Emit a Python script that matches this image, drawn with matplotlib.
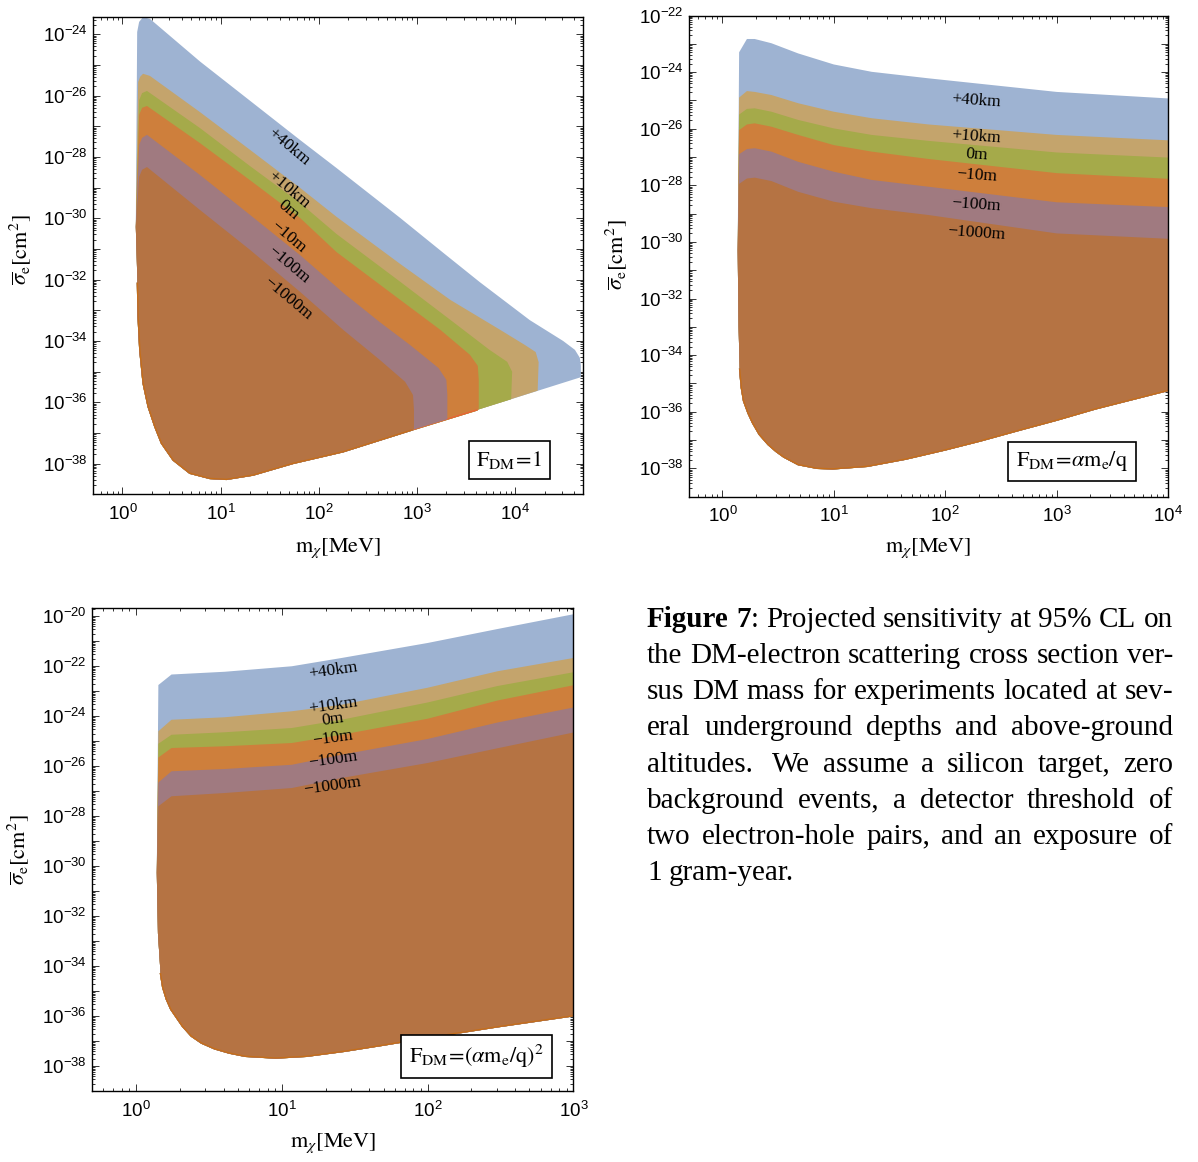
"""Projected DM-electron sensitivity bands for several depths/altitudes (three form factors)."""

import numpy as np
import matplotlib

matplotlib.use("Agg")
import matplotlib.pyplot as plt
from matplotlib.ticker import FixedLocator, FuncFormatter, NullFormatter

plt.rcParams["mathtext.fontset"] = "custom"
plt.rcParams["mathtext.rm"] = "Liberation Sans"
plt.rcParams["mathtext.it"] = "Liberation Sans:italic"
plt.rcParams["mathtext.bf"] = "Liberation Sans:bold"

W, H = 1198, 1162

depth_labels = ["+40km", "+10km", "0m", "\u221210m", "\u2212100m", "\u22121000m"]
fill_colors = ["#9EB3D2", "#C4A46C", "#A5AA4A", "#CE7F3C", "#A07A80", "#B57343"]
edge_colors = ["#5E81B5", "#E19C24", "#8FB032", "#EB6235", "#8778B3", "#C56E1A"]

# ---- panel 1: F_DM = 1 (log10 m [MeV], log10 sigma [cm^2]) ----
p1_floor_logm = [0.136, 0.143, 0.153, 0.16, 0.177, 0.211, 0.262, 0.33, 0.397, 0.516, 0.686,
                 0.89, 1.059, 1.331, 1.738, 2.248, 2.95, 3.61, 4.695]
p1_floor_logs = [-30.28, -31.03, -32.12, -33.21, -34.29, -35.38, -36.14, -36.79, -37.33, -37.88,
                 -38.31, -38.48, -38.51, -38.37, -37.99, -37.61, -36.9, -36.25, -35.16]
p1_ceil_logm = [
    [0.15, 0.17, 0.21, 0.28, 0.79, 1.30, 1.81, 2.18, 2.83, 3.27, 3.64, 4.15, 4.49, 4.61, 4.66,
     4.67, 4.67],
    [0.16, 0.18, 0.21, 0.28, 0.79, 1.30, 1.81, 2.18, 2.83, 3.34, 3.85, 4.10, 4.21, 4.24, 4.23],
    [0.17, 0.20, 0.25, 0.79, 1.30, 1.81, 2.18, 2.83, 3.34, 3.74, 3.92, 3.97, 3.96],
    [0.17, 0.20, 0.25, 0.79, 1.30, 1.81, 2.18, 2.83, 3.24, 3.54, 3.62, 3.63, 3.63],
    [0.17, 0.20, 0.25, 0.79, 1.30, 1.81, 2.25, 2.62, 2.93, 3.22, 3.30, 3.31, 3.31],
    [0.17, 0.20, 0.25, 0.79, 1.30, 1.81, 2.25, 2.62, 2.88, 2.96, 2.97, 2.97],
]
p1_ceil_logs = [
    [-23.93, -23.6, -23.44, -23.5, -24.89, -26.17, -27.45, -28.36, -29.99, -31.13, -32.08,
     -33.32, -34.0, -34.29, -34.55, -34.8, -35.18],
    [-25.56, -25.39, -25.29, -25.36, -26.54, -27.77, -29.01, -29.95, -31.49, -32.66, -33.64,
     -34.13, -34.36, -34.69, -35.62],
    [-26.15, -25.92, -25.85, -27.06, -28.3, -29.5, -30.51, -32.07, -33.31, -34.29, -34.68,
     -35.0, -35.9],
    [-26.63, -26.4, -26.34, -27.55, -28.76, -29.99, -31.1, -32.66, -33.64, -34.45, -34.81,
     -35.27, -36.23],
    [-27.61, -27.38, -27.28, -28.59, -29.89, -31.2, -32.43, -33.38, -34.13, -34.88, -35.27,
     -35.76, -36.55],
    [-28.65, -28.42, -28.33, -29.73, -31.03, -32.4, -33.64, -34.61, -35.33, -35.76, -36.25,
     -36.88],
]
p1_label_logm = [1.69, 1.69, 1.69, 1.69, 1.69, 1.69]
p1_label_logs = [-27.67, -29.08, -29.73, -30.61, -31.52, -32.6]

# ---- panel 2: F_DM = alpha m_e / q ----
p2_floor_logm = [0.137, 0.145, 0.155, 0.17, 0.19, 0.23, 0.27, 0.33, 0.41, 0.48, 0.55, 0.68,
                 0.85, 0.99, 1.30, 1.64, 2.0, 2.32, 2.67, 3.0, 3.35, 4.0]
p2_floor_logs = [-30.3, -33.0, -34.5, -35.15, -35.62, -36.05, -36.39, -36.8, -37.16, -37.4,
                 -37.6, -37.87, -38.0, -38.02, -37.93, -37.68, -37.35, -37.03, -36.65, -36.3,
                 -35.9, -35.25]
p2_ceil_logm = [0.15, 0.22, 0.29, 0.44, 0.68, 1.0, 1.34, 1.85, 3.0, 4.0]
p2_ceil_logs = [
    [-23.3, -22.83, -22.83, -22.98, -23.34, -23.73, -23.99, -24.22, -24.7, -24.93],
    [-24.9, -24.67, -24.7, -24.81, -25.10, -25.40, -25.63, -25.85, -26.22, -26.41],
    [-25.5, -25.3, -25.28, -25.40, -25.69, -25.99, -26.22, -26.43, -26.84, -27.02],
    [-26.05, -25.85, -25.81, -25.93, -26.22, -26.58, -26.81, -27.07, -27.57, -27.77],
    [-26.9, -26.72, -26.69, -26.81, -27.17, -27.52, -27.81, -28.05, -28.6, -28.77],
    [-27.95, -27.76, -27.73, -27.85, -28.23, -28.58, -28.81, -29.05, -29.7, -29.89],
]
p2_label_logm = [2.28, 2.28, 2.28, 2.28, 2.28, 2.28]
p2_label_logs = [-25.0, -26.29, -26.93, -27.66, -28.67, -29.67]

# ---- panel 3: F_DM = (alpha m_e / q)^2 ----
p3_floor_logm = [0.144, 0.152, 0.17, 0.185, 0.21, 0.24, 0.28, 0.32, 0.38, 0.45, 0.54, 0.64,
                 0.75, 0.96, 1.17, 1.43, 1.69, 2.0, 2.48, 3.0]
p3_floor_logs = [-30.26, -32.68, -34.3, -34.85, -35.32, -35.72, -36.06, -36.4, -36.79, -37.07,
                 -37.3, -37.47, -37.6, -37.67, -37.6, -37.4, -37.16, -36.86, -36.42, -35.98]
p3_ceil_logm = [0.155, 0.245, 0.61, 1.07, 1.41, 2.0, 2.48, 3.0]
p3_ceil_logs = [
    [-22.75, -22.33, -22.22, -22.0, -21.67, -21.07, -20.51, -19.92],
    [-24.6, -24.14, -24.04, -23.8, -23.54, -22.86, -22.2, -21.67],
    [-25.1, -24.74, -24.64, -24.47, -24.14, -23.45, -22.79, -22.24],
    [-25.65, -25.27, -25.2, -25.07, -24.74, -24.1, -23.37, -22.76],
    [-26.65, -26.2, -26.11, -25.94, -25.54, -24.91, -24.25, -23.65],
    [-27.6, -27.2, -27.07, -26.87, -26.47, -25.87, -25.28, -24.65],
]
p3_label_logm = [1.35, 1.35, 1.35, 1.35, 1.35, 1.35]
p3_label_logs = [-22.16, -23.56, -24.13, -24.87, -25.72, -26.77]

caption_lines = [
    "Figure 7: Projected sensitivity at 95% CL on",
    "the DM-electron scattering cross section ver-",
    "sus DM mass for experiments located at sev-",
    "eral underground depths and above-ground",
    "altitudes.  We assume a silicon target, zero",
    "background events, a detector threshold of",
    "two electron-hole pairs, and an exposure of",
    "1 gram-year.",
]

SERIF = "Liberation Serif"


def add_axes_px(fig, left, top, right, bottom):
    return fig.add_axes([left / W, 1 - bottom / H, (right - left) / W, (bottom - top) / H])


def draw_band(ax, floor_m, floor_s, ceil_m, ceil_s, fc, ec):
    fm, fs = np.asarray(floor_m), np.asarray(floor_s)
    cm, cs = np.asarray(ceil_m), np.asarray(ceil_s)
    keep = fm <= cm[-1] + 1e-9
    xs = np.concatenate([fm[keep], cm[::-1]])
    ys = np.concatenate([fs[keep], cs[::-1]])
    ax.fill(10.0 ** xs, 10.0 ** ys, color=fc, lw=0, zorder=2)
    ax.plot(10.0 ** fm[keep][2:], 10.0 ** fs[keep][2:], color=ec, lw=1.0, zorder=2)


def style_axes(ax, xlim, ylim):
    ax.set_xscale("log")
    ax.set_yscale("log")
    ax.set_xlim(*xlim)
    ax.set_ylim(*ylim)
    lx = np.arange(np.floor(np.log10(xlim[0])), np.ceil(np.log10(xlim[1])) + 1)
    ly = np.arange(np.floor(np.log10(ylim[0])), np.ceil(np.log10(ylim[1])) + 1)
    ax.xaxis.set_major_locator(FixedLocator(10.0 ** lx))
    ax.yaxis.set_major_locator(FixedLocator(10.0 ** ly))
    ax.xaxis.set_minor_locator(FixedLocator([k * 10.0 ** d for d in lx for k in range(2, 10)]))
    ax.yaxis.set_minor_locator(FixedLocator([k * 10.0 ** d for d in ly for k in range(2, 10)]))
    ax.xaxis.set_major_formatter(FuncFormatter(lambda v, p: r"$10^{%d}$" % round(np.log10(v))))
    ax.yaxis.set_major_formatter(FuncFormatter(
        lambda v, p: r"$10^{%d}$" % round(np.log10(v)) if round(np.log10(v)) % 2 == 0 else ""))
    ax.xaxis.set_minor_formatter(NullFormatter())
    ax.yaxis.set_minor_formatter(NullFormatter())
    ax.tick_params(which="both", direction="in", top=True, right=True, width=0.7, colors="#333333",
                   labelcolor="black")
    ax.tick_params(which="major", length=5, labelsize=13.5)
    ax.tick_params(axis="x", which="major", pad=7)
    ax.tick_params(axis="y", which="major", pad=4)
    ax.tick_params(which="minor", length=2.5)
    for s in ax.spines.values():
        s.set_linewidth(1.0)


def draw_panel(ax, floor_m, floor_s, ceil_m_list, ceil_s_list, lab_m, lab_s, rot, box_text, box_xy):
    for i in range(6):
        draw_band(ax, floor_m, floor_s, ceil_m_list[i], ceil_s_list[i], fill_colors[i], edge_colors[i])
    for i in range(6):
        ax.text(10.0 ** lab_m[i], 10.0 ** lab_s[i], depth_labels[i], family=SERIF, fontsize=12.5,
                rotation=rot, rotation_mode="anchor", ha="center", va="center", zorder=3)
    ax.text(box_xy[0], box_xy[1], box_text, transform=ax.transAxes, fontsize=16,
            math_fontfamily="stix", ha="center", va="center", zorder=4,
            bbox=dict(boxstyle="square,pad=0.35", fc="white", ec="black", lw=1.2))


fig = plt.figure(figsize=(W / 100, H / 100), dpi=100)

ax1 = add_axes_px(fig, 93, 17, 583.3, 494.4)
draw_panel(ax1, p1_floor_logm, p1_floor_logs, p1_ceil_logm, p1_ceil_logs,
           p1_label_logm, p1_label_logs, -40,
           r"$\mathrm{F}_{\mathrm{DM}}\!=\!1$", (0.849, 0.072))
style_axes(ax1, (10 ** -0.3, 10 ** 4.695), (1e-39, 10 ** -23.44))

ax2 = add_axes_px(fig, 689, 15.5, 1168, 496.6)
draw_panel(ax2, p2_floor_logm, p2_floor_logs, [p2_ceil_logm] * 6, p2_ceil_logs,
           p2_label_logm, p2_label_logs, -4,
           r"$\mathrm{F}_{\mathrm{DM}}\!=\!\alpha\mathrm{m}_{\mathrm{e}}/\mathrm{q}$", (0.80, 0.073))
style_axes(ax2, (10 ** -0.3, 1e4), (1e-39, 1e-22))

ax3 = add_axes_px(fig, 92, 608, 573.4, 1091.3)
draw_panel(ax3, p3_floor_logm, p3_floor_logs, [p3_ceil_logm] * 6, p3_ceil_logs,
           p3_label_logm, p3_label_logs, 8,
           r"$\mathrm{F}_{\mathrm{DM}}\!=\!(\alpha\mathrm{m}_{\mathrm{e}}/\mathrm{q})^{2}$", (0.799, 0.072))
style_axes(ax3, (10 ** -0.3, 1e3), (1e-39, 10 ** -19.67))

xlab = r"$\mathrm{m}_{\chi}[\mathrm{MeV}]$"
ylab = r"$\overline{\sigma}_{\mathrm{e}}[\mathrm{cm}^{2}]$"
for (xx, yy) in [(338, 548), (928, 548), (333, 1143)]:
    fig.text(xx / W, 1 - yy / H, xlab, fontsize=16, math_fontfamily="stix", ha="center", va="center")
for (xx, yy) in [(20, 250), (616, 255), (18, 850)]:
    fig.text(xx / W, 1 - yy / H, ylab, fontsize=16, math_fontfamily="stix", ha="center",
             va="center", rotation=90)

# ---- justified caption ----
renderer = fig.canvas.get_renderer()
cap_fs = 21
x_left, x_right = 647, 1173


def seg_width(s, weight):
    t = fig.text(0, 0, s, family=SERIF, fontsize=cap_fs, weight=weight)
    w = t.get_window_extent(renderer).width
    t.remove()
    return w


space_w = seg_width("a a", "normal") - 2 * seg_width("a", "normal")
for li, line in enumerate(caption_lines):
    y = 1 - (627 + li * 36.15) / H
    words = line.split(" ")
    # a double space marks a sentence gap
    items = []
    for w in words:
        if w == "":
            if items:
                items[-1][1] += 0.5
            continue
        items.append([w, 1.0])
    segs = []
    for w, g in items:
        if li == 0 and w == "Figure":
            segs.append(([("Figure", "bold")], g))
        elif li == 0 and w == "7:":
            segs.append(([("7", "bold"), (":", "normal")], g))
        else:
            segs.append(([(w, "normal")], g))
    widths = [sum(seg_width(s, wt) for s, wt in parts) for parts, _ in segs]
    gaps = [g for _, g in segs[:-1]]
    if li < len(caption_lines) - 1:
        unit = (x_right - x_left - sum(widths)) / sum(gaps)
    else:
        unit = space_w
    x = x_left
    for (parts, _), wd, gi in zip(segs, widths, gaps + [0]):
        xx = x
        for s, wt in parts:
            fig.text(xx / W, y, s, family=SERIF, fontsize=cap_fs, weight=wt, va="baseline", ha="left")
            xx += seg_width(s, wt)
        x += wd + unit * gi

fig.savefig("out.png", dpi=100)
